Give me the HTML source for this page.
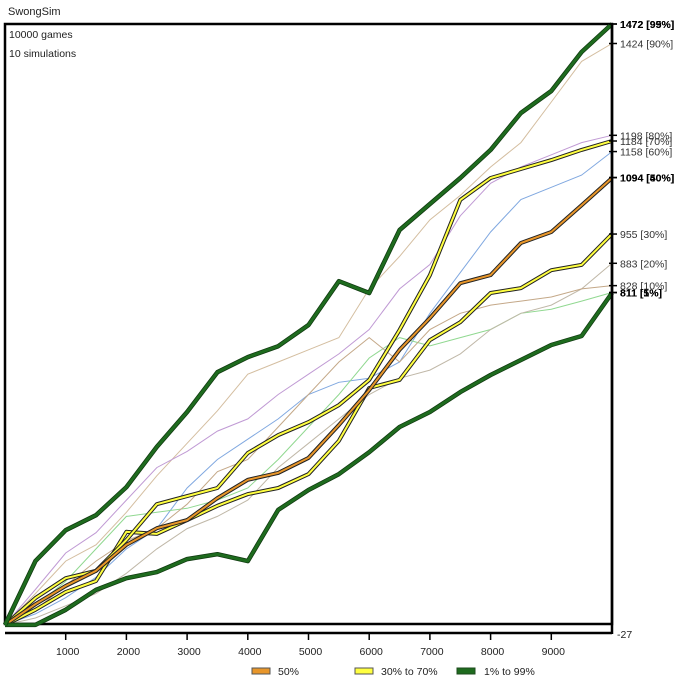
<!DOCTYPE html>
<html><head><meta charset="utf-8"><style>
html,body{margin:0;padding:0;background:#fff;width:700px;height:679px;overflow:hidden}
svg{display:block;font-family:"Liberation Sans",sans-serif}
</style></head><body>
<svg id="chart" width="700" height="679" viewBox="0 0 700 679">
<text x="8" y="15" font-size="11" fill="#222">SwongSim</text>
<rect x="5" y="24" width="607" height="600" fill="none" stroke="#000" stroke-width="2.5"/>
<text x="9" y="38" font-size="10.5" fill="#222">10000 games</text>
<text x="9" y="57" font-size="10.5" fill="#222">10 simulations</text>
<g id="thin"></g>
<g id="thick"></g>
<g id="axes"></g>
<g>
<g><rect x="252" y="668" width="18" height="6" fill="#e8962a" stroke="#555" stroke-width="1"/><text x="278" y="675" font-size="10.5" fill="#222">50%</text></g>
<g><rect x="355" y="668" width="18" height="6" fill="#ffff40" stroke="#555" stroke-width="1"/><text x="381" y="675" font-size="10.5" fill="#222">30% to 70%</text></g>
<g><rect x="457" y="668" width="18" height="6" fill="#1e6b1e" stroke="#1e4b1e" stroke-width="1"/><text x="484" y="675" font-size="10.5" fill="#222">1% to 99%</text></g>
</g>
</svg>
<script>
const games = [0,500,1000,1500,2000,2500,3000,3500,4000,4500,5000,5500,6000,6500,7000,7500,8000,8500,9000,9500,10000];
const p99 = [-7,150,226,263,332,431,517,615,652,679,731,839,810,965,1029,1093,1162,1253,1307,1403,1472];
const p1 = [-7,-7,30,79,108,123,155,167,150,276,325,364,418,480,517,566,608,645,682,704,810];
const p50 = [-7,44,89,126,190,231,251,305,350,367,404,485,571,670,748,834,854,933,960,1026,1093];
const p70 = [-7,59,108,126,202,290,310,330,416,460,492,534,596,719,854,1039,1093,1115,1137,1162,1184];
const p30 = [-7,30,74,101,222,217,251,286,315,330,364,446,576,596,694,738,810,822,866,879,955];
const simTan = [-7,70,150,190,270,360,440,520,610,640,670,700,820,900,990,1050,1120,1180,1280,1380,1424];
const simPurple = [-7,80,170,220,300,380,420,470,500,560,610,660,720,820,880,1000,1080,1120,1150,1180,1198];
const simBlue = [-7,20,60,110,180,230,330,400,450,500,560,590,600,640,760,860,960,1040,1070,1100,1158];
const simGreen = [-7,40,100,180,260,270,280,300,330,400,480,560,650,700,680,700,720,760,770,790,811];
const simGray = [-7,10,40,70,120,180,230,260,300,380,440,500,560,600,620,660,720,760,780,820,883];
const simBrown = [-7,30,90,150,200,230,290,370,400,480,560,640,700,640,720,760,780,790,800,820,828];
const xTicks = [1000,2000,3000,4000,5000,6000,7000,8000,9000];
const endValues = [1472,1472,1424,1198,1184,1158,1094,1094,955,883,828,811,811];
const endLabels = ["1472 [99%]","1472 [95%]","1424 [90%]","1198 [80%]","1184 [70%]","1158 [60%]","1094 [50%]","1094 [40%]","955 [30%]","883 [20%]","828 [10%]","811 [5%]","811 [1%]"];
const endBold = [true,true,false,false,false,false,true,true,false,false,false,true,true];
const yMin = -27, yMax = 1472;

const X = g => 5 + (g/10000)*607;
const Y = v => 633 - (v - yMin)/(yMax - yMin)*609;
const NS = "http://www.w3.org/2000/svg";
function mk(tag, attrs, parent){const e=document.createElementNS(NS,tag);for(const k in attrs)e.setAttribute(k,attrs[k]);parent.appendChild(e);return e;}
const pts = arr => arr.map((v,i)=>X(games[i]).toFixed(1)+","+Y(v).toFixed(1)).join(" ");

const thin = document.getElementById("thin");
const thinSeries = [[simTan,"#d4bea0","sim-line-tan"],[simPurple,"#c09ad4","sim-line-purple"],[simBlue,"#80a8e0","sim-line-blue"],[simGreen,"#90d890","sim-line-green"],[simGray,"#c0b8a8","sim-line-gray"],[simBrown,"#c4a888","sim-line-brown"]];
thinSeries.forEach(s=>{
  const l = mk("polyline",{points:pts(s[0]),fill:"none",stroke:s[1],"stroke-width":1},thin);
  
  
});
const thick = document.getElementById("thick");
const thickSeries = [[p30,"#222","#ffff40","line-p30",[4,2]],[p70,"#222","#ffff40","line-p70",[4,2]],[p50,"#222","#e8962a","line-p50",[4,2]],[p1,"#103810","#1e6b1e","line-p1",[4.5,3]],[p99,"#103810","#1e6b1e","line-p99",[4.5,3]]];
thickSeries.forEach(s=>{
  const g = mk("g",{},thick);
  
  
  mk("polyline",{points:pts(s[0]),fill:"none",stroke:s[1],"stroke-width":s[4][0],"stroke-linejoin":"round"},g);
  mk("polyline",{points:pts(s[0]),fill:"none",stroke:s[2],"stroke-width":s[4][1],"stroke-linejoin":"round"},g);
});
const axes = document.getElementById("axes");
const ax = mk("line",{x1:5,y1:633,x2:612,y2:633,stroke:"#000","stroke-width":2.5},axes);


const ay = mk("line",{x1:612,y1:24,x2:612,y2:634,stroke:"#000","stroke-width":2.5},axes);


xTicks.forEach(t=>{
  const tk = mk("line",{x1:X(t),y1:633,x2:X(t),y2:640,stroke:"#000","stroke-width":1.5},axes);
  
  
  const tx = mk("text",{x:X(t)+2,y:655,"font-size":10.5,"text-anchor":"middle",fill:"#222"},axes);
  tx.textContent = t;
  
  
});
const mn = mk("text",{x:617,y:638,"font-size":10.5,fill:"#222"},axes);
mn.textContent = String(yMin);


endValues.forEach((v,i)=>{
  const tk = mk("line",{x1:609,y1:Y(v),x2:617,y2:Y(v),stroke:"#000","stroke-width":1.5},axes);
  
  
  const tx = mk("text",{x:620,y:Y(v)+4,"font-size":10.5,fill:endBold[i]?"#000":"#333","font-weight":endBold[i]?"bold":"normal"},axes);
  tx.textContent = endLabels[i];
  
  
});
</script>
</body></html>
